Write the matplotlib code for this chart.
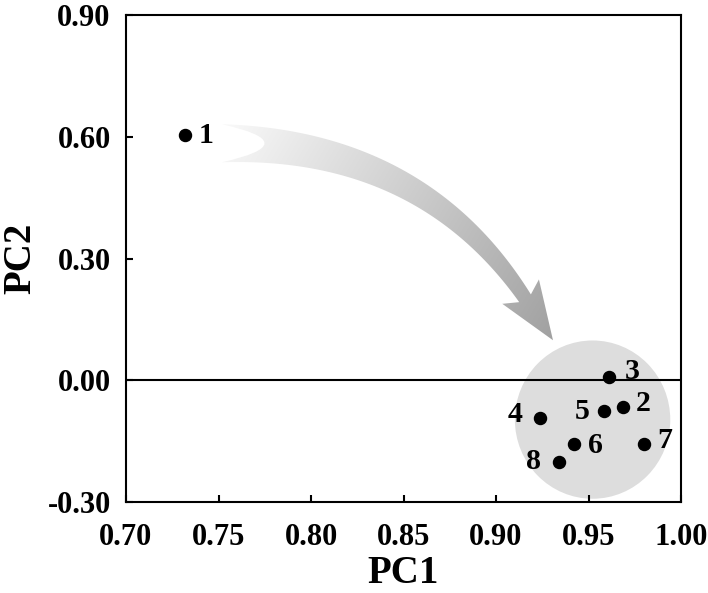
import numpy as np
import matplotlib
matplotlib.use("Agg")
import matplotlib.pyplot as plt
from matplotlib.path import Path
from matplotlib.patches import PathPatch, Ellipse
from matplotlib.transforms import IdentityTransform

plt.rcParams['font.family'] = ['Liberation Serif', 'DejaVu Serif']
plt.rcParams['font.weight'] = 'bold'
plt.rcParams['axes.unicode_minus'] = False

# ---- data ----
labels = ['1', '2', '3', '4', '5', '6', '7', '8']
pc1 = [0.732, 0.9685, 0.961, 0.9236, 0.9585, 0.942, 0.980, 0.934]
pc2 = [0.604, -0.065, 0.007, -0.092, -0.076, -0.158, -0.158, -0.202]
label_offsets = {'1': (21, 0), '2': (20, 3), '3': (23, 6), '4': (-25, 3),
                 '5': (-22, 0), '6': (22, -1), '7': (21, 4), '8': (-25, 1)}
xticks = [0.70, 0.75, 0.80, 0.85, 0.90, 0.95, 1.00]
yticks = [-0.30, 0.00, 0.30, 0.60, 0.90]
cluster_center = (0.9522, -0.097)
cluster_size = (0.084, 0.39)

W, H = 708, 593
fig = plt.figure(figsize=(W / 100, H / 100), dpi=100)
ax = fig.add_axes([126 / W, 1 - 502 / H, (681 - 126) / W, (502 - 15) / H])
ax.set_xlim(0.70, 1.00)
ax.set_ylim(-0.30, 0.90)

# cluster ellipse
ax.add_patch(Ellipse(cluster_center, cluster_size[0], cluster_size[1],
                     facecolor='#dddddd', edgecolor='none', zorder=1, clip_on=False))

ax.axhline(0, color='black', lw=1.5, zorder=2)

ax.scatter(pc1, pc2, s=75, color='black', zorder=4)
for lab, x, y in zip(labels, pc1, pc2):
    dx, dy = label_offsets[lab]
    ax.annotate(lab, (x, y), xytext=(dx * 0.72, dy * 0.72), textcoords='offset points',
                ha='center', va='center', fontsize=21.5, fontweight='bold', zorder=5)

ax.set_xticks(xticks)
ax.set_yticks(yticks)
ax.set_xticklabels([f'{v:.2f}' for v in xticks])
ax.set_yticklabels([f'{v:.2f}' for v in yticks])
ax.tick_params(direction='in', length=5, width=1.5, labelsize=22,
               right=False, top=False)
ax.tick_params(axis='x', pad=15)
ax.tick_params(axis='y', pad=11)
for lab in ax.get_xticklabels() + ax.get_yticklabels():
    lab.set_fontweight('bold')
for sp in ax.spines.values():
    sp.set_linewidth(1.5)

ax.set_xlabel('PC1', fontsize=28, fontweight='bold', labelpad=2)
ax.set_ylabel('PC2', fontsize=28, fontweight='bold', labelpad=6)

# ---- curved gradient arrow (annotation), geometry in data coords ----
tr = ax.transData
P0 = np.array(tr.transform((0.7519, 0.584)))
P1 = np.array(tr.transform((0.860, 0.584)))
P2 = np.array(tr.transform((0.9157, 0.202)))
TIP = np.array(tr.transform((0.9308, 0.0986)))

t = np.linspace(0, 1, 80)
curve = ((1 - t)[:, None] ** 2) * P0 + (2 * (1 - t) * t)[:, None] * P1 + (t ** 2)[:, None] * P2
deriv = (2 * (1 - t))[:, None] * (P1 - P0) + (2 * t)[:, None] * (P2 - P1)
tang = deriv / np.linalg.norm(deriv, axis=1)[:, None]
norm = np.stack([-tang[:, 1], tang[:, 0]], axis=1)
width = 38 - 24 * t
left = curve + norm * (width / 2)[:, None]
right = curve - norm * (width / 2)[:, None]

d = (TIP - P2) / np.linalg.norm(TIP - P2)
n = np.array([-d[1], d[0]])
wing1 = P2 + n * 22 - d * 8
wing2 = P2 - n * 22 - d * 8

# tail notch
t0 = tang[0]
tail_ctrl = P0 + t0 * 85
verts = []
codes = []
verts.append(left[0]); codes.append(Path.MOVETO)
for p in left[1:]:
    verts.append(p); codes.append(Path.LINETO)
verts.append(wing1); codes.append(Path.LINETO)
verts.append(TIP); codes.append(Path.LINETO)
verts.append(wing2); codes.append(Path.LINETO)
for p in right[::-1]:
    verts.append(p); codes.append(Path.LINETO)
verts.append(tail_ctrl); codes.append(Path.CURVE3)
verts.append(left[0]); codes.append(Path.CURVE3)
verts.append(left[0]); codes.append(Path.CLOSEPOLY)
path = Path(np.array(verts), codes)
patch = PathPatch(path, transform=IdentityTransform(), facecolor='none',
                  edgecolor='none')
fig.add_artist(patch)

# gradient image in display space
vec = TIP - P0
ys, xs = np.mgrid[0:H, 0:W]
proj = ((xs - P0[0]) * vec[0] + (ys - P0[1]) * vec[1]) / np.dot(vec, vec)
proj = np.clip(proj, 0, 1)
shade = 0.97 - 0.34 * proj
img = fig.figimage(np.dstack([shade, shade, shade]), xo=0, yo=0, origin='lower', zorder=3)
img.set_clip_path(patch)

fig.savefig('out.png', dpi=100)
